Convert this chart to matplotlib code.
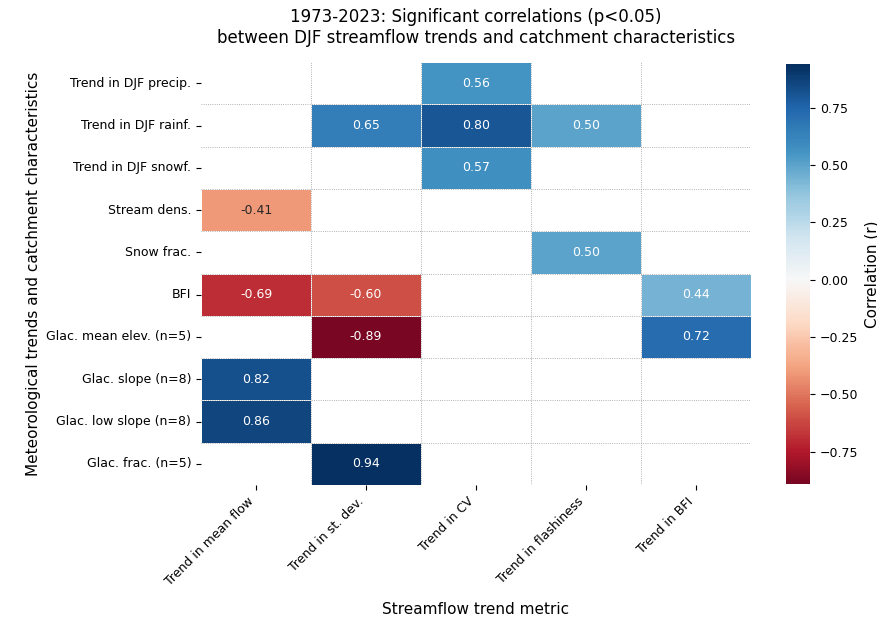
import numpy as np
import pandas as pd
import matplotlib
matplotlib.use('Agg')
import matplotlib.pyplot as plt
import seaborn as sns

# Streamflow trend metrics (columns) and catchment characteristics (rows)
metrics = ['Trend in mean flow', 'Trend in st. dev.', 'Trend in CV',
           'Trend in flashiness', 'Trend in BFI']
characteristics = ['Trend in DJF precip.', 'Trend in DJF rainf.', 'Trend in DJF snowf.',
                   'Stream dens.', 'Snow frac.', 'BFI', 'Glac. mean elev. (n=5)',
                   'Glac. slope (n=8)', 'Glac. low slope (n=8)', 'Glac. frac. (n=5)']

nan = np.nan
# significant correlations only, one list per streamflow metric
r_mean_flow = [nan, nan, nan, -0.41, nan, -0.69, nan, 0.82, 0.86, nan]
r_st_dev = [nan, 0.65, nan, nan, nan, -0.60, -0.89, nan, nan, 0.94]
r_cv = [0.56, 0.80, 0.57, nan, nan, nan, nan, nan, nan, nan]
r_flashiness = [nan, 0.50, nan, nan, 0.50, nan, nan, nan, nan, nan]
r_bfi = [nan, nan, nan, nan, nan, 0.44, 0.72, nan, nan, nan]

corr = pd.DataFrame({
    metrics[0]: r_mean_flow,
    metrics[1]: r_st_dev,
    metrics[2]: r_cv,
    metrics[3]: r_flashiness,
    metrics[4]: r_bfi,
}, index=characteristics)

fig = plt.figure(figsize=(8.78, 6.21), dpi=100)
ax = fig.add_axes([0.229, 0.219, 0.626, 0.681])
cax = fig.add_axes([0.895, 0.221, 0.028, 0.676])

sns.heatmap(corr, ax=ax, cbar_ax=cax, cmap='RdBu', center=0,
            annot=True, fmt='.2f', annot_kws={'size': 9},
            linewidths=0.5, linecolor='white',
            cbar_kws={'label': 'Correlation (r)'})

# dotted separators between cells
nrows, ncols = corr.shape
for i in range(1, nrows):
    ax.axhline(i, color='#999999', linestyle=':', linewidth=0.6, zorder=2)
for j in range(1, ncols):
    ax.axvline(j, color='#999999', linestyle=':', linewidth=0.6, zorder=2)

ax.set_title('1973-2023: Significant correlations (p<0.05)\n'
             'between DJF streamflow trends and catchment characteristics',
             fontsize=12, pad=14)
ax.set_xlabel('Streamflow trend metric', fontsize=11, labelpad=10)
ax.set_ylabel('Meteorological trends and catchment characteristics', fontsize=11)
ax.set_xticklabels(ax.get_xticklabels(), rotation=45, ha='right', fontsize=9)
ax.set_yticklabels(ax.get_yticklabels(), rotation=0, fontsize=9)

cax.tick_params(labelsize=9)
cax.yaxis.label.set_size(11)

fig.savefig('out.png', dpi=100)
